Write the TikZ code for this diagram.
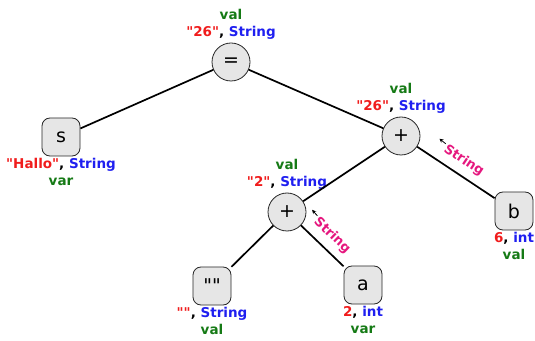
\documentclass[tikz,border=0pt]{standalone}
\usepackage{fontspec}
\setmainfont{DejaVu Sans}[Ligatures=TeXOff]
\usetikzlibrary{positioning,arrows.meta,calc}
\definecolor{ValRed}{HTML}{F01C1C}
\definecolor{TypeBlue}{HTML}{1F1FF0}
\definecolor{KindGreen}{HTML}{157A15}
\definecolor{CastPink}{HTML}{E5177E}
\definecolor{NodeFill}{HTML}{E6E6E6}
\newcommand{\valtxt}[1]{{\color{ValRed}#1}}
\newcommand{\typtxt}[1]{{\color{TypeBlue}#1}}
\newcommand{\kindtxt}[1]{{\color{KindGreen}#1}}

\begin{document}
\begin{tikzpicture}[x=1pt, y=1pt,
  op/.style={circle, draw=black!85, fill=NodeFill, line width=0.8pt,
    minimum size=38pt, inner sep=0pt, font=\fontsize{19}{21}\selectfont},
  leaf/.style={rectangle, rounded corners=8pt, draw=black!85, fill=NodeFill,
    line width=0.8pt, minimum size=38pt, inner sep=0pt,
    font=\fontsize{19}{21}\selectfont},
  ann/.style={align=center, inner sep=1pt,
    font=\fontsize{13.5}{17}\selectfont\bfseries},
  edge/.style={line width=1.7pt},
  cast/.style={sloped, above=6pt, inner sep=1pt, CastPink,
    font=\fontsize{13}{15}\selectfont\bfseries},
  castarr/.style={-{Stealth[length=4pt, width=4pt]}, line width=0.8pt}]
  \useasboundingbox (0,0) rectangle (535,340);
  % tree nodes, one row every 75pt
  \node[op] (eq) at (231,278) {=};
  \node[leaf] (s) at (61,203) {s};
  \node[op] (pa) at (401,204) {+};
  \node[op] (pb) at (287,128) {+};
  \node[leaf] (b) at (514,129) {b};
  \node[leaf] (e) at (212,54) {""};
  \node[leaf] (a) at (363,55) {a};
  % attributes of each node
  \node[ann, above=2pt of eq] {\kindtxt{val}\\\valtxt{"26"}, \typtxt{String}};
  \node[ann, above=2pt of pa] {\kindtxt{val}\\\valtxt{"26"}, \typtxt{String}};
  \node[ann, above=2pt of pb] {\kindtxt{val}\\\valtxt{"2"}, \typtxt{String}};
  \node[ann, below=1pt of s] {\valtxt{"Hallo"}, \typtxt{String}\\\kindtxt{var}};
  \node[ann, below=1pt of b] {\valtxt{6}, \typtxt{int}\\\kindtxt{val}};
  \node[ann, below=1pt of e] {\valtxt{""}, \typtxt{String}\\\kindtxt{val}};
  \node[ann, below=1pt of a] {\valtxt{2}, \typtxt{int}\\\kindtxt{var}};
  % edges, two of them with an implicit conversion
  \draw[edge] (eq) -- (s);
  \draw[edge] (eq) -- (pa);
  \draw[edge] (pa) -- (pb);
  \draw[edge] (pa) -- node[cast] (cb) {String} (b);
  \draw[edge] (pb) -- (e);
  \draw[edge] (pb) -- node[cast] (ca) {String} (a);
  % little arrows in front of the conversion labels
  \coordinate (cbt) at ($(cb.west)!0.5!(cb.north west)$);
  \coordinate (cat) at ($(ca.west)!0.5!(ca.north west)$);
  \draw[castarr] (cbt) -- ($(cbt)!-8pt!(cb.east)$);
  \draw[castarr] (cat) -- ($(cat)!-8pt!(ca.east)$);
\end{tikzpicture}
\end{document}
